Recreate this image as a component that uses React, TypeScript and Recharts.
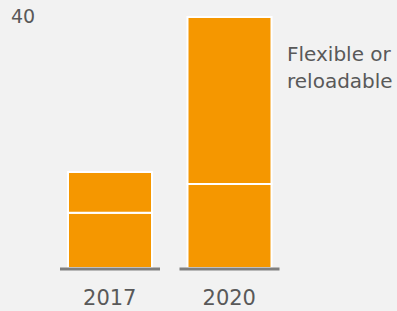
import { BarChart, Bar, XAxis, YAxis, Legend } from "recharts";

const years = ["2017", "2020"];
const baseValues = [8.8, 13.4];
const flexibleValues = [6.5, 26.6];
const yTicks = [40];

const data = years.map((year, i) => ({
  year,
  base: baseValues[i],
  flexible: flexibleValues[i],
}));

const FONT = "'DejaVu Sans', sans-serif";
const ORANGE = "#f59700";
const TEXT = "#595959";

function BaseBar(props: any) {
  const { x, y, width, height, fill } = props;
  const cx = x + width / 2;
  return (
    <g>
      <rect x={x} y={y} width={width} height={height} fill={fill} stroke="#ffffff" strokeWidth={2} />
      <line x1={cx - 50} x2={cx + 50} y1={y + height + 1} y2={y + height + 1} stroke="#7f7f7f" strokeWidth={3} />
    </g>
  );
}

function YearTick(props: any) {
  const { x, y, payload } = props;
  return (
    <text x={x} y={y + 29} textAnchor="middle" fill={TEXT} fontSize={21} fontFamily={FONT}>
      {payload.value}
    </text>
  );
}

function ValueTick(props: any) {
  const { y, payload } = props;
  return (
    <text x={11} y={y + 6} textAnchor="start" fill={TEXT} fontSize={19} fontFamily={FONT}>
      {payload.value}
    </text>
  );
}

function SeriesNote() {
  return (
    <div style={{ color: TEXT, fontFamily: FONT, fontSize: 20, lineHeight: "27px", whiteSpace: "nowrap" }}>
      Flexible or
      <br />
      reloadable
    </div>
  );
}

export default function App() {
  return (
    <div style={{ position: "absolute", left: 0, top: 0, width: 397, height: 311, background: "#f2f2f2", overflow: "hidden" }}>
      <BarChart width={397} height={311} data={data} margin={{ top: 17, right: 108, bottom: 0, left: 0 }}>
        <YAxis width={50} domain={[0, 40]} ticks={yTicks} axisLine={false} tickLine={false} tick={<ValueTick />} />
        <XAxis dataKey="year" height={43} axisLine={false} tickLine={false} tick={<YearTick />} />
        <Legend
          layout="horizontal"
          verticalAlign="middle"
          align="center"
          content={<SeriesNote />}
          wrapperStyle={{ position: "absolute", left: 287, top: 41, width: 110 }}
        />
        <Bar dataKey="base" stackId="a" fill={ORANGE} barSize={84} shape={<BaseBar />} isAnimationActive={false} />
        <Bar dataKey="flexible" stackId="a" fill={ORANGE} barSize={84} stroke="#ffffff" strokeWidth={2} isAnimationActive={false} />
      </BarChart>
    </div>
  );
}
